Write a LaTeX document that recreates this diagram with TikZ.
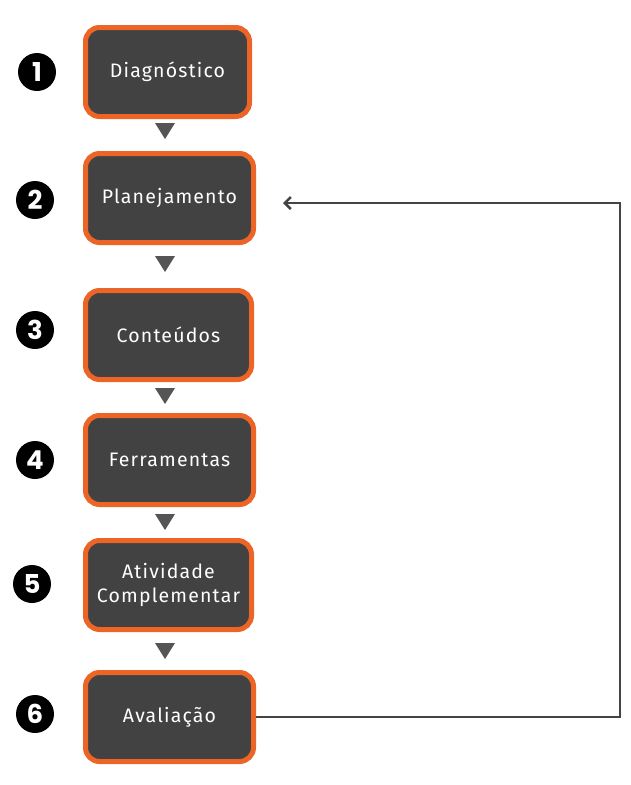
\documentclass[tikz,border=0pt]{standalone}
\usepackage{fontspec}
\setmainfont{Fira Sans}[LetterSpace=6]
\newfontfamily\numfont{Poppins}
\usetikzlibrary{arrows.meta,positioning}
\definecolor{boxfill}{HTML}{424242}
\definecolor{boxedge}{HTML}{EC6527}
\definecolor{tri}{HTML}{555555}
\definecolor{linec}{HTML}{444444}
\tikzset{
  x=1pt,y=-1pt,
  stepbox/.style={draw=boxedge,line width=5pt,fill=boxfill,rounded corners=14pt,
    minimum width=164pt,minimum height=89pt,text=white,align=center,
    font=\fontsize{19.5}{24}\selectfont,anchor=north west},
  numc/.style={circle,fill=black,minimum size=38pt,inner sep=0pt,text=white,
    font=\numfont\bfseries\fontsize{26}{26}\selectfont},
  tri/.style={fill=tri,draw=none},
}
\begin{document}
\begin{tikzpicture}
\useasboundingbox (0,0) rectangle (630,785);
\node[stepbox,minimum width=164pt] (b1) at (83,25) {Diagn\'ostico};
\node[stepbox,minimum width=168pt] (b2) at (83,151) {Planejamento};
\node[stepbox,minimum width=166pt] (b3) at (83,288) {Conte\'udos};
\node[stepbox,minimum width=168pt] (b4) at (83,413) {Ferramentas};
\node[stepbox,minimum width=166pt] (b5) at (83,538) {Atividade\\Complementar};
\node[stepbox,minimum width=168pt] (b6) at (83,670) {Avalia\c{c}\~ao};
\node[numc] (n1) at (37,72) {1};
\node[numc] (n2) at (35,200) {2};
\node[numc] (n3) at (35,330) {3};
\node[numc] (n4) at (35,460) {4};
\node[numc] (n5) at (32,584) {5};
\node[numc] (n6) at (35,714) {6};
\foreach \y in {123,256,388,514,643}{
  \fill[tri] (155,\y) -- (175,\y) -- (165,\y+16) -- cycle;
}
\coordinate (c1) at (620,712);
\coordinate (t) at (283,203);
\draw[linec,line width=2.5pt,-{Straight Barb[length=6pt,width=12pt,line width=2.5pt]}] (b6.east) -- (b6.east -| c1) |- (t);
\end{tikzpicture}
\end{document}
